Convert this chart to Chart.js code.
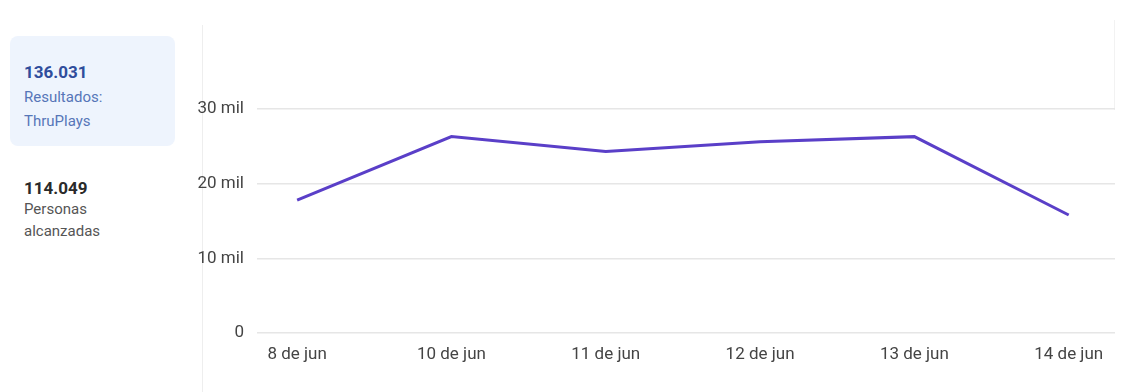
<!DOCTYPE html>
<html>
<head>
<meta charset="utf-8">
<script src="https://cdn.jsdelivr.net/npm/chart.js@4"></script>
<style>
  html, body { margin: 0; padding: 0; background: #fff; }
  body { width: 1142px; height: 392px; position: relative; overflow: hidden; font-family: Roboto, sans-serif; }
  .card { position: absolute; left: 10px; top: 36px; width: 165px; height: 110px; background: #eef4fd; border-radius: 8px; }
  .num { position: absolute; left: 24px; font-size: 17px; font-weight: bold; line-height: 20px; }
  .lbl { position: absolute; left: 24px; font-size: 15px; line-height: 22px; }
  .divider { position: absolute; left: 202px; top: 25px; width: 1px; height: 367px; background: #eeeeee; }
  .divider.right { left: 1114px; top: 20px; height: 90px; background: #f2f2f2; }
  #wrap { position: absolute; left: 190px; top: 0; width: 952px; height: 392px; }
</style>
</head>
<body>
<div class="card"></div>
<div class="num" style="top:62px;color:#2f4d9c;">136.031</div>
<div class="lbl" style="top:86px;color:#5676b8;">Resultados:</div>
<div class="lbl" style="top:110px;color:#5676b8;">ThruPlays</div>
<div class="num" style="top:178px;color:#2a2a2a;">114.049</div>
<div class="lbl" style="top:198px;color:#555;">Personas</div>
<div class="lbl" style="top:220px;color:#555;">alcanzadas</div>
<div class="divider"></div>
<div class="divider right"></div>
<div id="wrap"><canvas id="chart" width="952" height="392"></canvas></div>

<script>
// chart data
var days = ['8 de jun', '10 de jun', '11 de jun', '12 de jun', '13 de jun', '14 de jun'];
var thruplays = [17800, 26300, 24300, 25600, 26300, 15800];
var yTicks = [0, 10000, 20000, 30000];

var points = days.map(function(d, i) { return { x: i, y: thruplays[i] }; });

var ctx = document.getElementById('chart');
var tickFont = { family: 'Roboto', size: 17 };

new Chart(ctx, {
  type: 'line',
  data: {
    datasets: [{
      label: 'Resultados: ThruPlays',
      data: points,
      borderColor: '#5a3fc8',
      borderWidth: 3,
      pointRadius: 0,
      tension: 0,
      fill: false
    }]
  },
  options: {
    responsive: false,
    animation: false,
    layout: { padding: { top: 109, right: 27, left: 0, bottom: 0 } },
    plugins: { legend: { display: false }, tooltip: { enabled: false } },
    scales: {
      x: {
        type: 'linear',
        min: -0.26,
        max: 5.3,
        afterBuildTicks: function(scale) {
          scale.ticks = days.map(function(d, i) { return { value: i }; });
        },
        afterFit: function(scale) { scale.height = 59; },
        grid: { display: false, drawTicks: false },
        border: { display: false },
        ticks: {
          padding: 12,
          color: '#444',
          font: tickFont,
          maxRotation: 0,
          autoSkip: false,
          callback: function(v) { return days[v]; }
        }
      },
      y: {
        min: 0,
        max: 30000,
        afterBuildTicks: function(scale) {
          scale.ticks = yTicks.map(function(v) { return { value: v }; });
        },
        afterFit: function(scale) { scale.width = 67; },
        grid: { color: '#e6e6e6', lineWidth: 1.5, drawTicks: false },
        border: { display: false },
        ticks: {
          padding: 13,
          color: '#444',
          font: tickFont,
          callback: function(v) { return v === 0 ? '0' : (v / 1000) + ' mil'; }
        }
      }
    }
  }
});
</script>
</body>
</html>
